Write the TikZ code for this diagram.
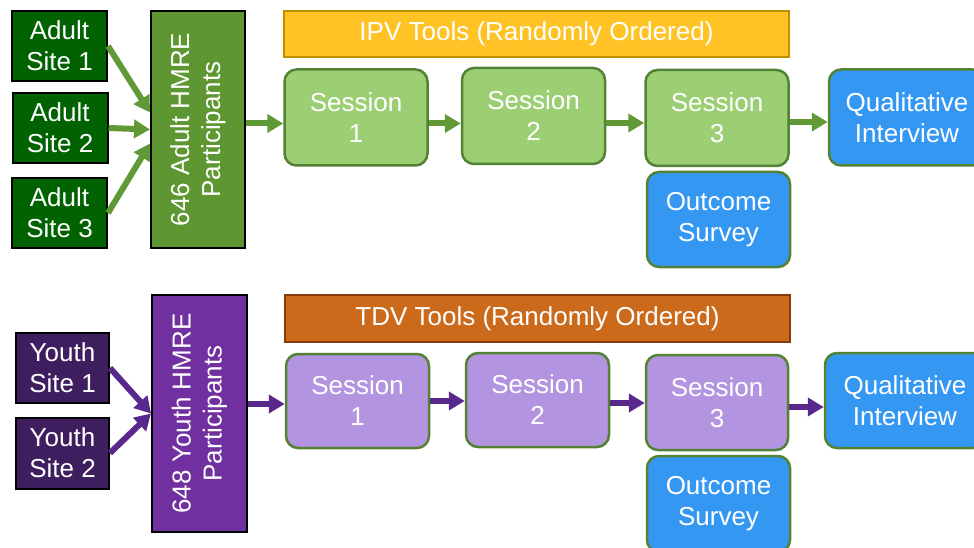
\documentclass[tikz,border=0pt]{standalone}
\usepackage{fontspec}
\setmainfont{Liberation Sans}
\usepackage{tikz}
\usetikzlibrary{positioning,arrows.meta}
\usepackage{xcolor}
\definecolor{sitegreen}{RGB}{0,98,0}
\definecolor{poolgreen}{RGB}{94,151,50}
\definecolor{flowgreen}{RGB}{96,153,54}
\definecolor{ipvgold}{RGB}{255,195,38}
\definecolor{ipvedge}{RGB}{191,144,0}
\definecolor{sessgreen}{RGB}{156,207,116}
\definecolor{sessedge}{RGB}{84,130,53}
\definecolor{toolblue}{RGB}{52,152,243}
\definecolor{sitepurple}{RGB}{62,30,95}
\definecolor{poolpurple}{RGB}{112,48,160}
\definecolor{flowpurple}{RGB}{88,40,140}
\definecolor{tdvorange}{RGB}{204,106,28}
\definecolor{tdvedge}{RGB}{132,60,12}
\definecolor{sesspurple}{RGB}{179,148,224}

\begin{document}
\begin{tikzpicture}[x=1pt,y=-1pt,
  every node/.style={text=white,font=\fontsize{26}{31}\selectfont,align=center,inner sep=0pt},
  site/.style={draw=black,line width=2pt,minimum width=95pt,minimum height=70pt},
  pool/.style={draw=black,line width=2pt,rotate=90,minimum width=237pt,minimum height=94pt},
  toolbar/.style={line width=2pt,minimum width=505pt,minimum height=46pt},
  sess/.style={draw=sessedge,line width=2.5pt,rounded corners=12pt,minimum width=143pt,minimum height=96pt},
  flow/.style={-{Triangle[length=16pt,width=18pt]},line width=6pt}]
\useasboundingbox (0,0) rectangle (974,548);

% adult track
\node[site,fill=sitegreen] (as1) at (59.5,46) {Adult\\Site 1};
\node[site,fill=sitegreen] (as2) at (60,128) {Adult\\Site 2};
\node[site,fill=sitegreen] (as3) at (59.5,213) {Adult\\Site 3};
\node[pool,fill=poolgreen] (pa) at (198,129.5) {646 Adult HMRE\\Participants};
\node[toolbar,draw=ipvedge,fill=ipvgold] (ipv) at (536.5,34) {IPV Tools (Randomly Ordered)};
\node[sess,fill=sessgreen] (s1) at (356,117.5) {Session\\1};
\node[sess,fill=sessgreen] (s2) at (533.5,116) {Session\\2};
\node[sess,fill=sessgreen] (s3) at (717,118) {Session\\3};
\node[sess,fill=toolblue,minimum width=156pt] (qi) at (907,117.5) {Qualitative\\Interview};
\node[sess,fill=toolblue,minimum height=95pt] (os) at (718.5,219.5) {Outcome\\Survey};

\draw[flow,flowgreen] (as1.east) -- ([yshift=17pt]pa.north);
\draw[flow,flowgreen] (as2.east) -- (pa.north);
\draw[flow,flowgreen] (as3.east) -- ([yshift=-14pt]pa.north);
\draw[flow,flowgreen] ([yshift=6pt]pa.south) -- ([yshift=-6pt]s1.west);
\draw[flow,flowgreen] ([yshift=-6pt]s1.east) -- ([yshift=-6pt]s1.east -| s2.west);
\draw[flow,flowgreen] ([yshift=-7pt]s2.east) -- ([yshift=-7pt]s2.east -| s3.west);
\draw[flow,flowgreen] ([yshift=-4pt]s3.east) -- ([yshift=-4pt]s3.east -| qi.west);

% youth track
\node[site,fill=sitepurple,minimum width=93pt] (ys1) at (62.5,368) {Youth\\Site 1};
\node[site,fill=sitepurple,minimum width=93pt,minimum height=71pt] (ys2) at (62.5,453) {Youth\\Site 2};
\node[pool,fill=poolpurple,minimum height=95pt] (py) at (199.5,413.5) {648 Youth HMRE\\Participants};
\node[toolbar,draw=tdvedge,fill=tdvorange,minimum height=47pt] (tdv) at (537.5,318.5) {TDV Tools (Randomly Ordered)};
\node[sess,fill=sesspurple,minimum height=94pt] (t1) at (357.5,401) {Session\\1};
\node[sess,fill=sesspurple,minimum height=94pt] (t2) at (537.5,400) {Session\\2};
\node[sess,fill=sesspurple,minimum width=142pt,minimum height=95pt] (t3) at (717,402.5) {Session\\3};
\node[sess,fill=toolblue,minimum width=160pt,minimum height=95pt] (tq) at (905,400.5) {Qualitative\\Interview};
\node[sess,fill=toolblue] (to) at (718.5,504) {Outcome\\Survey};

\draw[flow,flowpurple] (ys1.east) -- (py.north);
\draw[flow,flowpurple] (ys2.east) -- (py.north);
\draw[flow,flowpurple] ([yshift=9.5pt]py.south) -- ([yshift=9.5pt]py.south -| t1.west);
\draw[flow,flowpurple] (t1.east) -- (t1.east -| t2.west);
\draw[flow,flowpurple] ([yshift=-3pt]t2.east) -- ([yshift=-3pt]t2.east -| t3.west);
\draw[flow,flowpurple] ([yshift=-4.5pt]t3.east) -- ([yshift=-4.5pt]t3.east -| tq.west);
\end{tikzpicture}
\end{document}
